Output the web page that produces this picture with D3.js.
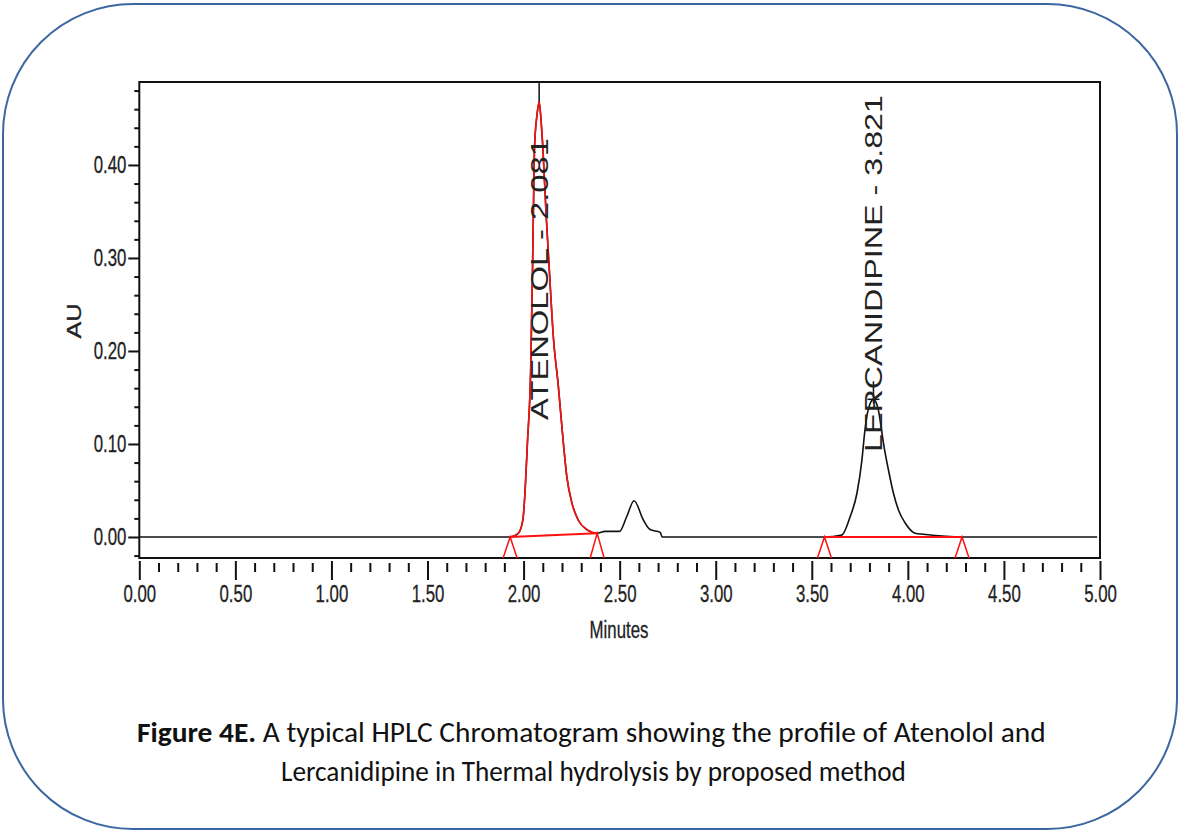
<!DOCTYPE html>
<html>
<head>
<meta charset="utf-8">
<script src="https://d3js.org/d3.v7.min.js"></script>
<style>
  body { margin: 0; background: #fff; }
</style>
</head>
<body>
<svg id="chart" width="1180" height="833"></svg>
<script>
// atenolol peak (red), minutes / AU
var atenololTime = [1.930, 1.973, 1.996, 2.008, 2.020, 2.037, 2.046, 2.051, 2.057, 2.070, 2.081, 2.092, 2.100, 2.117, 2.134, 2.155, 2.181, 2.204, 2.225, 2.251, 2.285, 2.329, 2.383];
var atenololAU   = [0.000, 0.004, 0.018, 0.050, 0.101, 0.180, 0.280, 0.348, 0.419, 0.454, 0.468, 0.445, 0.420, 0.348, 0.287, 0.215, 0.162, 0.108, 0.065, 0.037, 0.018, 0.008, 0.004];

// small unknown peak after atenolol
var impurityTime = [2.424, 2.499, 2.537, 2.575, 2.624, 2.658, 2.711, 2.721];
var impurityAU   = [0.006, 0.006, 0.022, 0.039, 0.018, 0.008, 0.005, 0.000];

// lercanidipine peak (black)
var lercTime = [3.566, 3.656, 3.700, 3.735, 3.761, 3.775, 3.795, 3.821, 3.845, 3.861, 3.873, 3.899, 3.925, 3.951, 3.986, 4.038, 4.080, 4.282];
var lercAU   = [0.000, 0.002, 0.022, 0.047, 0.083, 0.112, 0.138, 0.148, 0.138, 0.118, 0.101, 0.072, 0.047, 0.029, 0.015, 0.004, 0.003, 0.000];

// integration events
var peakNames   = ["ATENOLOL", "LERCANIDIPINE"];
var peakRT      = [2.081, 3.821];
var peakHeight  = [0.468, 0.148];
var baseStart   = [1.930, 3.566];
var baseEnd     = [2.383, 4.282];
var baseStartAU = [0.000, 0.000];
var baseEndAU   = [0.004, 0.000];

var xMajor = [0, 0.5, 1, 1.5, 2, 2.5, 3, 3.5, 4, 4.5, 5];
var yMajor = [0, 0.1, 0.2, 0.3, 0.4];

var svg = d3.select("#chart");

// rounded outer border
svg.append("rect")
    .attr("x", 3).attr("y", 4)
    .attr("width", 1174).attr("height", 825)
    .attr("rx", 130).attr("ry", 130)
    .attr("fill", "none")
    .attr("stroke", "#3c67a0")
    .attr("stroke-width", 2);

var x = d3.scaleLinear().domain([0, 5]).range([139.3, 1100]);
var y = d3.scaleLinear().domain([-0.0226, 0.4892]).range([558, 82]);

var tickFont = "'Liberation Sans', Arial, sans-serif";
var sx = 0.7;

// y axis major
var yAxisG = svg.append("g")
    .attr("transform", "translate(" + x(0) + ",0)")
    .call(d3.axisLeft(y).tickValues(yMajor).tickSize(11).tickPadding(2).tickFormat(d3.format(".2f")));
yAxisG.select(".domain").remove();
yAxisG.selectAll("line").attr("stroke", "#111").attr("stroke-width", 2);
yAxisG.selectAll("text")
    .attr("x", -13 / sx)
    .attr("transform", "scale(" + sx + ",1)")
    .style("font-family", tickFont).style("font-size", "24px")
    .attr("fill", "#222").attr("stroke", "#222").attr("stroke-width", 0.3);

// y axis minor
var yMinor = d3.range(-2, 49, 2).map(function (d) { return d / 100; })
    .filter(function (d) { return Math.round(d * 100) % 10 !== 0; });
var yMinorG = svg.append("g")
    .attr("transform", "translate(" + x(0) + ",0)")
    .call(d3.axisLeft(y).tickValues(yMinor).tickSize(5).tickFormat(""));
yMinorG.select(".domain").remove();
yMinorG.selectAll("line").attr("stroke", "#111").attr("stroke-width", 2);

// x axis major
var xAxisG = svg.append("g")
    .attr("transform", "translate(0,561)")
    .call(d3.axisBottom(x).tickValues(xMajor).tickSize(19).tickPadding(5).tickFormat(d3.format(".2f")));
xAxisG.select(".domain").remove();
xAxisG.selectAll("line").attr("stroke", "#111").attr("stroke-width", 2);
xAxisG.selectAll("text")
    .attr("transform", "scale(" + sx + ",1)")
    .style("font-family", tickFont).style("font-size", "24px")
    .attr("fill", "#222").attr("stroke", "#222").attr("stroke-width", 0.3);

// x axis minor
var xMinor = d3.range(0, 51).map(function (d) { return d / 10; })
    .filter(function (d) { return Math.round(d * 10) % 5 !== 0; });
var xMinorG = svg.append("g")
    .attr("transform", "translate(0,563)")
    .call(d3.axisBottom(x).tickValues(xMinor).tickSize(9).tickFormat(""));
xMinorG.select(".domain").remove();
xMinorG.selectAll("line").attr("stroke", "#111").attr("stroke-width", 2);

// frame
svg.append("rect")
    .attr("x", x(0)).attr("y", y.range()[1])
    .attr("width", x(5) - x(0)).attr("height", y.range()[0] - y.range()[1])
    .attr("fill", "none").attr("stroke", "#111").attr("stroke-width", 2);

// axis titles
svg.append("text")
    .attr("transform", "translate(619,638) scale(" + sx + ",1)")
    .attr("text-anchor", "middle")
    .style("font-family", tickFont).style("font-size", "24px")
    .attr("fill", "#222").attr("stroke", "#222").attr("stroke-width", 0.3)
    .text("Minutes");

svg.append("text")
    .attr("transform", "translate(81,321) rotate(-90)")
    .attr("text-anchor", "middle")
    .attr("textLength", 35).attr("lengthAdjust", "spacingAndGlyphs")
    .style("font-family", tickFont).style("font-size", "20px")
    .attr("fill", "#222").attr("stroke", "#222").attr("stroke-width", 0.3)
    .text("AU");

// full detector trace
var trace = [[0, 0]];
atenololTime.forEach(function (t, i) { trace.push([t, atenololAU[i]]); });
impurityTime.forEach(function (t, i) { trace.push([t, impurityAU[i]]); });
lercTime.forEach(function (t, i) { trace.push([t, lercAU[i]]); });
trace.push([4.985, 0]);

var line = d3.line()
    .curve(d3.curveMonotoneX)
    .x(function (d) { return x(d[0]); })
    .y(function (d) { return y(d[1]); });

svg.append("path")
    .datum(trace)
    .attr("d", line)
    .attr("fill", "none").attr("stroke", "#111").attr("stroke-width", 1.6);

// atenolol peak in red
svg.append("path")
    .datum(atenololTime.map(function (t, i) { return [t, atenololAU[i]]; }))
    .attr("d", line)
    .attr("fill", "none").attr("stroke", "#ff1010").attr("stroke-width", 1.6);

// integration baselines and start/end markers
var red = "#ff1010";
peakRT.forEach(function (rt, i) {
    svg.append("line")
        .attr("x1", x(baseStart[i])).attr("y1", y(baseStartAU[i]))
        .attr("x2", x(baseEnd[i])).attr("y2", y(baseEndAU[i]))
        .attr("stroke", red).attr("stroke-width", 2);
    [[baseStart[i], baseStartAU[i]], [baseEnd[i], baseEndAU[i]]].forEach(function (p) {
        svg.append("path")
            .attr("d", "M" + (x(p[0]) - 7) + "," + y.range()[0] + "L" + x(p[0]) + "," + y(p[1]) + "L" + (x(p[0]) + 7) + "," + y.range()[0])
            .attr("fill", "none").attr("stroke", red).attr("stroke-width", 1.5);
    });
});

// retention time markers
svg.append("line")
    .attr("x1", x(peakRT[0])).attr("x2", x(peakRT[0]))
    .attr("y1", y.range()[1]).attr("y2", y(peakHeight[0]))
    .attr("stroke", "#111").attr("stroke-width", 1.5);
svg.append("line")
    .attr("x1", x(peakRT[1])).attr("x2", x(peakRT[1]))
    .attr("y1", y(peakHeight[1]) - 18).attr("y2", y(peakHeight[1]) + 4)
    .attr("stroke", "#111").attr("stroke-width", 1.5);
svg.append("line")
    .attr("x1", x(peakRT[1]) - 6).attr("x2", x(peakRT[1]) + 6)
    .attr("y1", y(peakHeight[1])).attr("y2", y(peakHeight[1]))
    .attr("stroke", "#111").attr("stroke-width", 1.5);

// peak labels (vertical)
var labelBottom = [420, 452];
var labelLength = [282, 357];
peakNames.forEach(function (name, i) {
    svg.append("text")
        .attr("transform", "translate(" + (x(peakRT[i]) + 9) + "," + labelBottom[i] + ") rotate(-90)")
        .attr("textLength", labelLength[i]).attr("lengthAdjust", "spacingAndGlyphs")
        .style("font-family", tickFont).style("font-size", "24px").attr("fill", "#222")
        .text(name + " - " + peakRT[i].toFixed(3));
});

// caption
var capFont = "Carlito, Lato, 'Open Sans', sans-serif";
var cap1 = svg.append("text")
    .attr("x", 0).attr("y", 0)
    .style("font-family", capFont).style("font-size", "28px").attr("fill", "#111");
cap1.append("tspan").style("font-weight", "bold").text("Figure 4E.");
cap1.append("tspan").text(" A typical HPLC Chromatogram showing the profile of Atenolol and");
var cap2 = svg.append("text")
    .attr("x", 0).attr("y", 0)
    .style("font-family", capFont).style("font-size", "28px").attr("fill", "#111")
    .text("Lercanidipine in Thermal hydrolysis by proposed method");

function fitCaption(t, left, right, base) {
    var w = t.node().getComputedTextLength();
    var k = (right - left) / w;
    t.attr("transform", "translate(" + left + "," + base + ") scale(" + k + ",1)");
}
fitCaption(cap1, 137, 1046, 742);
fitCaption(cap2, 281, 906, 781);
</script>
</body>
</html>
